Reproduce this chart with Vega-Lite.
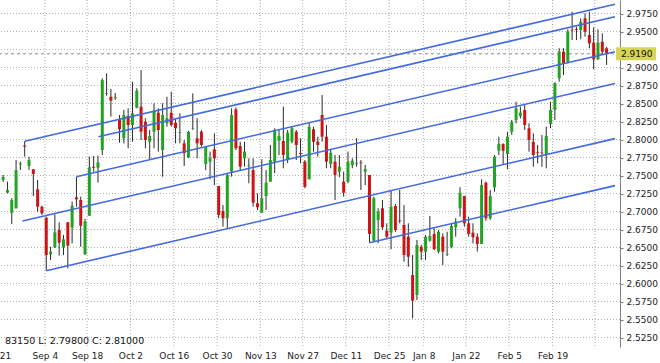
{
  "$schema": "https://vega.github.io/schema/vega-lite/v6.json",
  "width": 620,
  "height": 347,
  "autosize": {"type": "none"},
  "padding": {"left": 0, "top": 0, "right": 40, "bottom": 16},
  "background": "white",
  "config": {
    "view": {"stroke": null},
    "font": "DejaVu Sans",
    "axis": {
      "grid": false,
      "labelOverlap": false, "labelFontSize": 9, "labelColor": "#222222", "labelFont": "DejaVu Sans"
    },
    "axisX": {"domain": false, "ticks": false, "labelPadding": 4, "labelFlush": true},
    "axisY": {"domainColor": "#808080", "tickColor": "#808080", "tickSize": 3, "labelPadding": 3, "labelFlush": false}
  },
  "datasets": {
    "candles": [
      {"i":0,"o":2.7438,"h":2.7507,"l":2.7410,"c":2.7479},
      {"i":1,"o":2.7261,"h":2.7414,"l":2.7253,"c":2.7299},
      {"i":2,"o":2.6983,"h":2.7183,"l":2.6826,"c":2.7160},
      {"i":3,"o":2.7044,"h":2.7715,"l":2.7040,"c":2.7576},
      {"i":4,"o":2.7653,"h":2.7692,"l":2.7576,"c":2.7667},
      {"i":5,"o":2.7917,"h":2.7975,"l":2.7761,"c":2.7900},
      {"i":6,"o":2.7632,"h":2.7761,"l":2.7576,"c":2.7715},
      {"i":7,"o":2.7586,"h":2.7590,"l":2.7215,"c":2.7521},
      {"i":8,"o":2.7308,"h":2.7438,"l":2.6997,"c":2.7067},
      {"i":9,"o":2.7067,"h":2.7081,"l":2.6951,"c":2.6975},
      {"i":10,"o":2.6914,"h":2.6928,"l":2.6178,"c":2.6396},
      {"i":11,"o":2.6406,"h":2.6511,"l":2.6326,"c":2.6442},
      {"i":12,"o":2.6503,"h":2.6961,"l":2.6493,"c":2.6711},
      {"i":13,"o":2.6743,"h":2.6850,"l":2.6386,"c":2.6567},
      {"i":14,"o":2.6503,"h":2.6674,"l":2.6396,"c":2.6614},
      {"i":15,"o":2.6850,"h":2.6854,"l":2.6211,"c":2.6525},
      {"i":16,"o":2.6775,"h":2.7136,"l":2.6558,"c":2.7081},
      {"i":17,"o":2.7197,"h":2.7483,"l":2.7067,"c":2.7169},
      {"i":18,"o":2.7160,"h":2.7206,"l":2.6511,"c":2.6803},
      {"i":19,"o":2.6406,"h":2.6896,"l":2.6396,"c":2.6864},
      {"i":20,"o":2.6942,"h":2.7761,"l":2.6938,"c":2.7614},
      {"i":21,"o":2.7621,"h":2.7771,"l":2.7553,"c":2.7607},
      {"i":22,"o":2.7608,"h":2.7775,"l":2.7400,"c":2.7683},
      {"i":23,"o":2.7854,"h":2.8850,"l":2.7785,"c":2.8826},
      {"i":24,"o":2.8635,"h":2.8919,"l":2.8608,"c":2.8646},
      {"i":25,"o":2.8594,"h":2.8701,"l":2.8317,"c":2.8539},
      {"i":26,"o":2.8574,"h":2.8646,"l":2.8549,"c":2.8588},
      {"i":27,"o":2.8281,"h":2.8340,"l":2.7956,"c":2.8142},
      {"i":28,"o":2.8017,"h":2.8410,"l":2.7947,"c":2.8340},
      {"i":29,"o":2.8326,"h":2.8433,"l":2.7878,"c":2.8201},
      {"i":30,"o":2.8201,"h":2.8803,"l":2.7969,"c":2.8364},
      {"i":31,"o":2.8442,"h":2.8711,"l":2.8433,"c":2.8678},
      {"i":32,"o":2.8456,"h":2.8965,"l":2.7993,"c":2.8108},
      {"i":33,"o":2.8247,"h":2.8294,"l":2.7878,"c":2.7993},
      {"i":34,"o":2.7969,"h":2.8132,"l":2.7715,"c":2.8049},
      {"i":35,"o":2.8108,"h":2.8503,"l":2.7878,"c":2.8400},
      {"i":36,"o":2.8372,"h":2.8433,"l":2.7831,"c":2.8132},
      {"i":37,"o":2.7854,"h":2.8503,"l":2.7483,"c":2.8340},
      {"i":38,"o":2.8225,"h":2.8594,"l":2.8178,"c":2.8294},
      {"i":39,"o":2.8372,"h":2.8664,"l":2.8178,"c":2.8201},
      {"i":40,"o":2.8233,"h":2.8294,"l":2.7947,"c":2.8156},
      {"i":41,"o":2.8094,"h":2.8364,"l":2.7947,"c":2.8104},
      {"i":42,"o":2.7947,"h":2.7993,"l":2.7632,"c":2.7808},
      {"i":43,"o":2.7753,"h":2.8118,"l":2.7743,"c":2.8108},
      {"i":44,"o":2.8153,"h":2.8642,"l":2.8132,"c":2.8160},
      {"i":45,"o":2.8017,"h":2.8294,"l":2.7739,"c":2.7947},
      {"i":46,"o":2.8108,"h":2.8132,"l":2.7900,"c":2.7924},
      {"i":47,"o":2.7660,"h":2.7892,"l":2.7576,"c":2.7892},
      {"i":48,"o":2.7692,"h":2.7831,"l":2.7447,"c":2.7739},
      {"i":49,"o":2.7864,"h":2.8086,"l":2.7368,"c":2.7739},
      {"i":50,"o":2.7354,"h":2.7354,"l":2.6906,"c":2.6951},
      {"i":51,"o":2.7007,"h":2.7090,"l":2.6789,"c":2.6906},
      {"i":52,"o":2.6906,"h":2.7531,"l":2.6767,"c":2.7507},
      {"i":53,"o":2.7553,"h":2.8433,"l":2.7483,"c":2.8340},
      {"i":54,"o":2.8419,"h":2.8447,"l":2.7854,"c":2.7878},
      {"i":55,"o":2.7910,"h":2.7969,"l":2.7576,"c":2.7622},
      {"i":56,"o":2.7739,"h":2.7969,"l":2.7622,"c":2.7831},
      {"i":57,"o":2.7628,"h":2.7739,"l":2.7392,"c":2.7639},
      {"i":58,"o":2.7576,"h":2.7739,"l":2.7067,"c":2.7122},
      {"i":59,"o":2.7114,"h":2.7253,"l":2.7021,"c":2.7058},
      {"i":60,"o":2.6983,"h":2.7725,"l":2.6983,"c":2.7183},
      {"i":61,"o":2.7215,"h":2.7576,"l":2.7021,"c":2.7400},
      {"i":62,"o":2.7414,"h":2.7924,"l":2.7414,"c":2.7715},
      {"i":63,"o":2.7692,"h":2.8156,"l":2.7531,"c":2.8132},
      {"i":64,"o":2.7983,"h":2.8132,"l":2.7785,"c":2.8049},
      {"i":65,"o":2.7979,"h":2.8456,"l":2.7600,"c":2.7785},
      {"i":66,"o":2.7715,"h":2.8132,"l":2.7674,"c":2.8094},
      {"i":67,"o":2.7969,"h":2.8178,"l":2.7947,"c":2.8156},
      {"i":68,"o":2.8108,"h":2.8132,"l":2.7715,"c":2.7924},
      {"i":69,"o":2.7813,"h":2.8017,"l":2.7669,"c":2.7799},
      {"i":70,"o":2.7692,"h":2.7715,"l":2.7322,"c":2.7344},
      {"i":71,"o":2.7447,"h":2.8233,"l":2.7447,"c":2.8178},
      {"i":72,"o":2.8142,"h":2.8178,"l":2.7831,"c":2.7969},
      {"i":73,"o":2.7969,"h":2.8039,"l":2.7761,"c":2.7924},
      {"i":74,"o":2.8340,"h":2.8618,"l":2.7969,"c":2.8039},
      {"i":75,"o":2.8039,"h":2.8201,"l":2.7600,"c":2.7692},
      {"i":76,"o":2.7660,"h":2.7854,"l":2.7600,"c":2.7817},
      {"i":77,"o":2.7692,"h":2.7785,"l":2.7160,"c":2.7507},
      {"i":78,"o":2.7553,"h":2.7785,"l":2.7475,"c":2.7622},
      {"i":79,"o":2.7414,"h":2.7553,"l":2.7206,"c":2.7261},
      {"i":80,"o":2.7414,"h":2.7831,"l":2.7392,"c":2.7692},
      {"i":81,"o":2.7646,"h":2.7739,"l":2.7600,"c":2.7706},
      {"i":82,"o":2.7665,"h":2.8017,"l":2.7622,"c":2.7675},
      {"i":83,"o":2.7682,"h":2.7715,"l":2.7299,"c":2.7671},
      {"i":84,"o":2.7553,"h":2.7646,"l":2.7368,"c":2.7590},
      {"i":85,"o":2.7507,"h":2.7507,"l":2.6567,"c":2.6688},
      {"i":86,"o":2.6594,"h":2.7206,"l":2.6590,"c":2.7183},
      {"i":87,"o":2.6882,"h":2.7044,"l":2.6558,"c":2.6997},
      {"i":88,"o":2.7044,"h":2.7160,"l":2.6743,"c":2.6781},
      {"i":89,"o":2.6733,"h":2.6836,"l":2.6628,"c":2.6650},
      {"i":90,"o":2.6706,"h":2.7299,"l":2.6475,"c":2.7067},
      {"i":91,"o":2.7076,"h":2.7104,"l":2.6715,"c":2.6743},
      {"i":92,"o":2.6876,"h":2.7299,"l":2.6836,"c":2.6865},
      {"i":93,"o":2.6813,"h":2.7090,"l":2.6303,"c":2.6396},
      {"i":94,"o":2.6650,"h":2.6836,"l":2.6233,"c":2.6372},
      {"i":95,"o":2.6118,"h":2.6396,"l":2.5517,"c":2.5761},
      {"i":96,"o":2.5840,"h":2.6604,"l":2.5771,"c":2.6535},
      {"i":97,"o":2.6511,"h":2.6535,"l":2.6326,"c":2.6442},
      {"i":98,"o":2.6442,"h":2.6674,"l":2.6326,"c":2.6650},
      {"i":99,"o":2.6594,"h":2.6938,"l":2.6581,"c":2.6660},
      {"i":100,"o":2.6688,"h":2.6767,"l":2.6465,"c":2.6475},
      {"i":101,"o":2.6442,"h":2.6743,"l":2.6419,"c":2.6719},
      {"i":102,"o":2.6650,"h":2.6697,"l":2.6257,"c":2.6442},
      {"i":103,"o":2.6401,"h":2.6719,"l":2.6382,"c":2.6413},
      {"i":104,"o":2.6503,"h":2.6836,"l":2.6489,"c":2.6799},
      {"i":105,"o":2.6781,"h":2.6906,"l":2.6650,"c":2.6858},
      {"i":106,"o":2.7044,"h":2.7336,"l":2.6928,"c":2.7261},
      {"i":107,"o":2.7215,"h":2.7215,"l":2.6789,"c":2.6836},
      {"i":108,"o":2.6836,"h":2.6928,"l":2.6650,"c":2.6688},
      {"i":109,"o":2.6706,"h":2.6836,"l":2.6558,"c":2.6642},
      {"i":110,"o":2.6650,"h":2.6697,"l":2.6442,"c":2.6549},
      {"i":111,"o":2.6549,"h":2.7447,"l":2.6549,"c":2.7368},
      {"i":112,"o":2.7400,"h":2.7414,"l":2.6872,"c":2.6906},
      {"i":113,"o":2.6906,"h":2.7299,"l":2.6882,"c":2.7215},
      {"i":114,"o":2.7336,"h":2.7785,"l":2.7275,"c":2.7761},
      {"i":115,"o":2.7844,"h":2.8039,"l":2.7785,"c":2.7938},
      {"i":116,"o":2.7938,"h":2.7947,"l":2.7660,"c":2.7844},
      {"i":117,"o":2.7799,"h":2.8108,"l":2.7586,"c":2.8039},
      {"i":118,"o":2.8108,"h":2.8271,"l":2.8063,"c":2.8247},
      {"i":119,"o":2.8271,"h":2.8526,"l":2.8225,"c":2.8433},
      {"i":120,"o":2.8326,"h":2.8456,"l":2.8294,"c":2.8372},
      {"i":121,"o":2.8410,"h":2.8479,"l":2.8132,"c":2.8201},
      {"i":122,"o":2.8156,"h":2.8225,"l":2.7831,"c":2.7993},
      {"i":123,"o":2.7969,"h":2.8086,"l":2.7622,"c":2.7785},
      {"i":124,"o":2.7821,"h":2.7924,"l":2.7669,"c":2.7810},
      {"i":125,"o":2.7819,"h":2.8063,"l":2.7622,"c":2.7808},
      {"i":126,"o":2.7785,"h":2.8178,"l":2.7600,"c":2.8049},
      {"i":127,"o":2.8215,"h":2.8525,"l":2.8156,"c":2.8410},
      {"i":128,"o":2.8410,"h":2.8789,"l":2.8271,"c":2.8789},
      {"i":129,"o":2.8850,"h":2.9267,"l":2.8803,"c":2.9219},
      {"i":130,"o":2.9219,"h":2.9267,"l":2.8896,"c":2.9049},
      {"i":131,"o":2.9081,"h":2.9531,"l":2.9058,"c":2.9497},
      {"i":132,"o":2.9525,"h":2.9775,"l":2.9382,"c":2.9514},
      {"i":133,"o":2.9535,"h":2.9567,"l":2.9382,"c":2.9524},
      {"i":134,"o":2.9521,"h":2.9683,"l":2.9392,"c":2.9636},
      {"i":135,"o":2.9683,"h":2.9753,"l":2.9428,"c":2.9497},
      {"i":136,"o":2.9451,"h":2.9775,"l":2.9267,"c":2.9336},
      {"i":137,"o":2.9344,"h":2.9558,"l":2.8975,"c":2.9114},
      {"i":138,"o":2.9114,"h":2.9531,"l":2.9104,"c":2.9344},
      {"i":139,"o":2.9358,"h":2.9475,"l":2.9174,"c":2.9219},
      {"i":140,"o":2.9267,"h":2.9289,"l":2.9035,"c":2.9190}
    ],
    "lines": [
      {"t0":5,"p0":2.7975,"t1":141.95,"p1":2.9879},
      {"t0":22.1,"p0":2.8039,"t1":141.95,"p1":2.9705},
      {"t0":17,"p0":2.7483,"t1":141.95,"p1":2.9220},
      {"t0":4.5,"p0":2.6868,"t1":141.95,"p1":2.8779},
      {"t0":10,"p0":2.6178,"t1":141.95,"p1":2.8012},
      {"t0":85,"p0":2.6567,"t1":141.95,"p1":2.7359}
    ],
    "gx": [
      {"i":9.674},{"i":19.489},{"i":29.533},{"i":39.576},{"i":49.619},{"i":59.663},{"i":69.478},
      {"i":79.522},{"i":89.565},{"i":97.554},{"i":107.369},{"i":117.412},{"i":127.456},{"i":137.271}
    ],
    "gy": [
      {"l":2.525},{"l":2.55},{"l":2.575},{"l":2.6},{"l":2.625},{"l":2.65},{"l":2.675},{"l":2.7},{"l":2.725},{"l":2.75},
      {"l":2.775},{"l":2.8},{"l":2.825},{"l":2.85},{"l":2.875},{"l":2.9},{"l":2.925},{"l":2.95},{"l":2.975}
    ],
    "price": [{"p":2.919,"label":"2.9190"}],
    "info": [{"label":"83150 L: 2.79800 C: 2.81000"}]
  },
  "encoding": {
    "x": {
      "field": "i", "type": "quantitative", "title": null,
      "scale": {"domain": [0.43, 141.95], "nice": false, "zero": false},
      "axis": {
        "values": [0.43, 9.674, 19.489, 29.533, 39.576, 49.619, 59.663, 69.478, 79.522, 89.565, 97.554, 107.369, 117.412, 127.456, 137.271],
        "labelExpr": "['21','Sep 4','Sep 18','Oct 2','Oct 16','Oct 30','Nov 13','Nov 27','Dec 11','Dec 25','Jan 8','Jan 22','Feb 5','Feb 19',''][round((datum.value+0.5)/10)]",
        "grid": false, "labelOverlap": false, "title": null
      }
    },
    "y": {
      "field": "l", "type": "quantitative", "title": null,
      "scale": {"domain": [2.511806, 2.99375], "nice": false, "zero": false},
      "axis": {
        "orient": "right", "grid": false, "labelOverlap": false, "title": null,
        "values": [2.525, 2.55, 2.575, 2.6, 2.625, 2.65, 2.675, 2.7, 2.725, 2.75, 2.775, 2.8, 2.825, 2.85, 2.875, 2.9, 2.925, 2.95, 2.975],
        "format": ".4f",
        "labelExpr": "(datum.value > 2.92 && datum.value < 2.93) ? '' : datum.label"
      }
    }
  },
  "layer": [
    {
      "data": {"name": "gy"},
      "mark": {"type": "rule", "color": "#b0b0b0", "strokeDash": [1, 2], "strokeWidth": 1},
      "encoding": {"x": null}
    },
    {
      "data": {"name": "gx"},
      "mark": {"type": "rule", "color": "#b0b0b0", "strokeDash": [1, 2], "strokeWidth": 1},
      "encoding": {"y": null}
    },
    {
      "data": {"name": "price"},
      "mark": {"type": "rule", "color": "#8a8a8a", "strokeDash": [3, 3], "strokeWidth": 1},
      "encoding": {"x": null, "y": {"field": "p"}}
    },
    {
      "data": {"name": "candles"},
      "mark": {"type": "rule", "color": "#2a2a2a", "strokeWidth": 1, "clip": true},
      "encoding": {"y2": {"field": "h"}}
    },
    {
      "data": {"name": "candles"},
      "mark": {"type": "bar", "size": 3, "clip": true},
      "encoding": {
        "y": {"field": "o"},
        "y2": {"field": "c"},
        "color": {"condition": {"test": "datum.c < datum.o", "value": "#cc1414"}, "value": "#22a322"}
      }
    },
    {
      "data": {"name": "lines"},
      "mark": {"type": "rule", "color": "#4169e1", "strokeWidth": 1.6, "clip": true},
      "encoding": {
        "x": {"field": "t0"},
        "x2": {"field": "t1"},
        "y": {"field": "p0"},
        "y2": {"field": "p1"}
      }
    },
    {
      "data": {"name": "price"},
      "transform": [{"calculate": "142.2", "as": "i"}, {"calculate": "151.5", "as": "i2"}],
      "mark": {"type": "rule", "color": "#d6d656", "strokeWidth": 13, "strokeCap": "butt"},
      "encoding": {
        "x2": {"field": "i2"},
        "y": {"field": "p"}
      }
    },
    {
      "data": {"name": "price"},
      "transform": [{"calculate": "143.35", "as": "i"}],
      "mark": {"type": "text", "align": "left", "baseline": "middle", "fontSize": 9, "font": "DejaVu Sans", "color": "#111111"},
      "encoding": {
        "y": {"field": "p"},
        "text": {"field": "label"}
      }
    },
    {
      "data": {"name": "info"},
      "transform": [{"calculate": "0.43", "as": "i"}, {"calculate": "2.5201", "as": "l"}],
      "mark": {"type": "text", "align": "left", "baseline": "middle", "fontSize": 9.5, "font": "DejaVu Sans", "color": "#111111"},
      "encoding": {
        "text": {"field": "label"}
      }
    }
  ]
}
